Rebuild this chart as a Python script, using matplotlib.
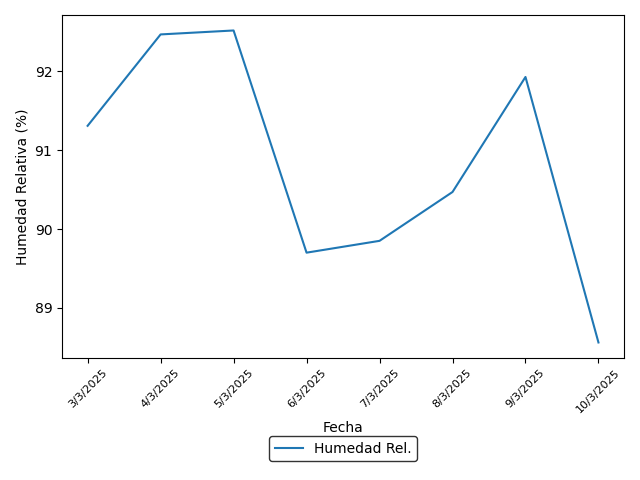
import matplotlib
matplotlib.use("Agg")
import matplotlib.pyplot as plt
from matplotlib.ticker import MultipleLocator

fechas = ["3/3/2025", "4/3/2025", "5/3/2025", "6/3/2025", "7/3/2025", "8/3/2025", "9/3/2025", "10/3/2025"]
humedad = [91.31, 92.47, 92.52, 89.70, 89.85, 90.47, 91.93, 88.56]

fig, ax = plt.subplots(figsize=(6.4, 4.8), dpi=100)
ax.plot(fechas, humedad, label="Humedad Rel.")
ax.set_xlabel("Fecha")
ax.set_ylabel("Humedad Relativa (%)")
ax.yaxis.set_major_locator(MultipleLocator(1))
ax.tick_params(axis="x", labelrotation=45, labelsize=8)
ax.legend(loc="upper center", bbox_to_anchor=(0.5, -0.207), edgecolor="black")
fig.subplots_adjust(left=0.097, right=0.975, top=0.969, bottom=0.254)
fig.savefig("out.png", dpi=100)
